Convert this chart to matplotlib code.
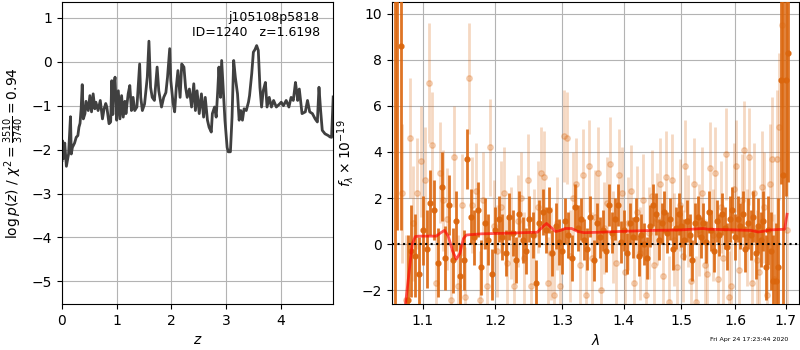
import matplotlib
matplotlib.use('Agg')
import matplotlib.pyplot as plt
from matplotlib.ticker import NullLocator, FormatStrFormatter

plt.rcParams['font.size'] = 10

# redshift grid and log p(z)
z_grid = [0.00, 0.01, 0.03, 0.05, 0.08, 0.12, 0.155, 0.17, 0.19, 0.23, 0.26, 0.29, 0.31, 0.33, 0.35, 0.37,
          0.39, 0.42, 0.44, 0.48, 0.51, 0.54, 0.57, 0.60, 0.62, 0.66, 0.70, 0.74, 0.77, 0.80, 0.82, 0.86, 0.89,
          0.91, 0.93, 0.94, 0.97, 1.00, 1.03, 1.06, 1.09, 1.12, 1.15, 1.17, 1.21, 1.24, 1.27, 1.30, 1.33, 1.37,
          1.42, 1.44, 1.47, 1.51, 1.56, 1.59, 1.62, 1.65, 1.69, 1.74, 1.77, 1.82, 1.86, 1.90, 1.93,
          1.97, 1.99, 2.03, 2.06, 2.09, 2.12, 2.16, 2.19, 2.23, 2.26, 2.29, 2.33, 2.37, 2.41, 2.44,
          2.47, 2.51, 2.55, 2.59, 2.62, 2.66, 2.69, 2.73, 2.75, 2.79, 2.82, 2.85, 2.87, 2.90, 2.92,
          2.95, 2.98, 3.02, 3.04, 3.08, 3.11, 3.14, 3.17, 3.21, 3.24, 3.27, 3.30, 3.33, 3.37, 3.41,
          3.43, 3.47, 3.50, 3.53, 3.56, 3.59, 3.62, 3.65, 3.68, 3.72, 3.75, 3.79, 3.83, 3.87, 3.92,
          3.98, 4.01, 4.05, 4.10, 4.15, 4.19, 4.23, 4.27, 4.29, 4.31, 4.34, 4.39, 4.45, 4.49, 4.53,
          4.58, 4.63, 4.67, 4.70, 4.73, 4.76, 4.81, 4.87, 4.90, 4.93, 4.96]
logpz = [-2.25, -1.80, -2.20, -1.85, -2.38, -2.10, -1.25, -2.10, -1.95, -1.85, -1.72, -1.68, -1.49, -1.40, -1.07, -0.52,
         -1.30, -1.18, -0.90, -1.11, -0.77, -1.14, -0.73, -1.07, -0.92, -1.11, -0.88, -1.30, -1.07, -0.95, -1.03, -1.41, -1.37,
         -0.43, -1.20, -0.66, -0.35, -1.33, -0.66, -1.30, -0.77, -1.26, -0.90, -1.18, -0.73, -0.54, -1.11, -0.81, -1.11, -1.03,
         -0.05, -0.81, -1.11, -0.96, -0.35, 0.47, -0.58, -0.81, -0.88, -0.12, -0.66, -1.03, -0.81, -0.70, -0.35,
         0.30, -0.43, -0.92, -1.14, -0.58, -0.20, -0.81, -0.05, -0.12, -0.58, -0.81, -0.62, -1.03, -0.50, -1.11,
         -0.66, -1.18, -0.73, -1.26, -0.81, -1.33, -1.49, -1.60, -1.18, -1.03, -1.26, -0.62, -0.12, -0.81, 0.03,
         -0.66, -1.33, -1.95, -2.05, -2.05, -1.26, 0.03, -0.35, -0.73, -1.33, -1.11, -1.33, -1.07, -1.11, -0.92,
         -0.77, -0.27, 0.22, 0.28, 0.37, 0.26, -0.58, -1.03, -0.66, -0.47, -1.03, -0.81, -1.03, -0.88, -1.03,
         -0.96, -0.92, -1.00, -0.88, -1.03, -0.81, -0.88, -0.47, -0.66, -0.88, -0.62, -1.18, -1.14, -0.88, -1.14,
         -1.18, -1.30, -1.37, -0.58, -1.11, -1.56, -1.64, -1.68, -1.71, -1.72, -0.80]

# spectrum, first orientation (solid points)
wave_a = [1.064, 1.067, 1.072, 1.080, 1.085, 1.090, 1.095, 1.100, 1.105, 1.110, 1.115, 1.120, 1.125,
          1.130, 1.135, 1.140, 1.145, 1.150, 1.155, 1.160, 1.165, 1.170, 1.175, 1.180, 1.185, 1.190,
          1.195, 1.200, 1.205, 1.210, 1.215, 1.220, 1.225, 1.230, 1.235, 1.240, 1.245, 1.250, 1.255,
          1.260, 1.265, 1.270, 1.275, 1.280, 1.285, 1.290, 1.295, 1.300, 1.305, 1.310, 1.315, 1.320,
          1.325, 1.330, 1.335, 1.340, 1.345, 1.350, 1.355, 1.360, 1.365, 1.370, 1.375, 1.380, 1.385,
          1.390, 1.395, 1.400, 1.405, 1.410, 1.415, 1.420, 1.425, 1.430, 1.435, 1.440, 1.445, 1.450,
          1.455, 1.460, 1.465, 1.470, 1.475, 1.480, 1.485, 1.490, 1.495, 1.500, 1.505, 1.510, 1.515,
          1.520, 1.525, 1.530, 1.535, 1.540, 1.545, 1.550, 1.555, 1.560, 1.565, 1.570, 1.575, 1.580,
          1.585, 1.590, 1.595, 1.600, 1.605, 1.610, 1.615, 1.620, 1.625, 1.630, 1.635, 1.640, 1.645,
          1.650, 1.655, 1.660, 1.665, 1.670, 1.675, 1.680, 1.685, 1.690, 1.695, 1.700, 1.705]
flux_a = [12.0, 11.0, 8.6, -2.4, -0.3, -0.5, -1.3, 0.6, -0.2, 1.8, 1.5, -0.8, 2.5,
          -0.6, 1.7, -0.7, 1.0, -1.4, -0.7, 3.7, 1.2, 0.3, 1.5, -1.0, 0.9, 0.2,
          -1.3, 0.6, 1.1, 0.3, -0.4, 1.2, 0.5, -0.7, 1.3, 0.2, -0.3, 1.1, 0.4,
          -1.7, 0.9, 1.4, 0.6, 1.5, -0.4, 0.8, 0.1, -0.3, 1.0, 0.4, -0.6, 1.6,
          0.7, 1.1, 0.2, -0.2, 1.2, -0.7, 0.9, 0.3, 0.6, -0.3, 1.7, 0.5, 1.1,
          1.7, 0.1, 0.6, -0.4, 0.9, 0.3, 1.1, -0.5, 0.4, 0.0, -0.6, 0.8, 1.7,
          1.3, 0.2, 0.9, 1.4, 0.5, 1.1, -0.2, 0.7, 1.3, 0.8, 0.2, 1.0, 0.4,
          -0.7, 0.9, 1.2, 0.3, 0.9, 0.1, 1.4, 0.6, -0.3, 1.0, 0.4, 1.3, 0.7,
          -0.1, 1.1, 1.5, 0.3, 1.1, 0.8, 1.3, -0.2, 0.9, 0.4, 1.2, -0.4, 0.8,
          0.2, 1.0, -1.0, 0.6, -0.3, -1.6, -1.6, -1.0, 7.1, 3.0, 7.1, 8.3]
err_a = [15.0, 10.4, 8.0, 2.8, 2.0, 1.8, 1.6, 1.5, 1.7, 1.4, 1.3, 1.5, 1.5,
         1.4, 1.3, 1.4, 1.3, 1.4, 1.3, 1.3, 1.2, 1.2, 1.2, 1.2, 1.1, 1.1,
         1.1, 1.0, 1.0, 1.0, 1.0, 1.0, 1.0, 1.0, 1.0, 1.0, 1.0, 1.0, 1.0,
         1.0, 1.0, 1.0, 1.0, 1.0, 1.0, 1.0, 1.0, 1.0, 1.0, 1.0, 1.0, 1.0,
         1.0, 0.9, 0.9, 0.9, 0.9, 0.9, 0.9, 0.9, 0.9, 0.9, 0.9, 0.9, 0.9,
         0.9, 0.9, 0.9, 0.9, 0.9, 0.9, 0.9, 0.9, 0.9, 0.9, 0.9, 0.9, 0.9,
         0.9, 0.9, 0.9, 0.9, 0.9, 0.9, 0.9, 0.9, 0.9, 0.9, 0.9, 0.9, 0.9,
         0.9, 0.9, 0.9, 0.9, 0.9, 0.9, 0.9, 0.9, 0.9, 0.9, 0.9, 0.9, 0.9,
         1.0, 1.0, 1.0, 1.0, 1.0, 1.0, 1.0, 1.0, 1.1, 1.1, 1.1, 1.1, 1.2,
         1.2, 1.3, 1.4, 1.5, 1.7, 2.0, 2.5, 3.0, 4.5, 8.0, 5.0, 5.6]

# spectrum, second orientation (faint points)
wave_b = [1.0725, 1.0775, 1.0825, 1.0875, 1.0925, 1.0975, 1.1025, 1.1075, 1.1125, 1.1175, 1.1225,
          1.1275, 1.1325, 1.1375, 1.1425, 1.1475, 1.1525, 1.1575, 1.1625, 1.1675, 1.1725, 1.1775,
          1.1825, 1.1875, 1.1925, 1.1975, 1.2025, 1.2075, 1.2125, 1.2175, 1.2225, 1.2275, 1.2325,
          1.2375, 1.2425, 1.2475, 1.2525, 1.2575, 1.2625, 1.2675, 1.2725, 1.2775, 1.2825, 1.2875,
          1.2925, 1.2975, 1.3025, 1.3075, 1.3125, 1.3175, 1.3225, 1.3275, 1.3325, 1.3375, 1.3425,
          1.3475, 1.3525, 1.3575, 1.3625, 1.3675, 1.3725, 1.3775, 1.3825, 1.3875, 1.3925, 1.3975,
          1.4025, 1.4075, 1.4125, 1.4175, 1.4225, 1.4275, 1.4325, 1.4375, 1.4425, 1.4475, 1.4525,
          1.4575, 1.4625, 1.4675, 1.4725, 1.4775, 1.4825, 1.4875, 1.4925, 1.4975, 1.5025, 1.5075,
          1.5125, 1.5175, 1.5225, 1.5275, 1.5325, 1.5375, 1.5425, 1.5475, 1.5525, 1.5575, 1.5625,
          1.5675, 1.5725, 1.5775, 1.5825, 1.5875, 1.5925, 1.5975, 1.6025, 1.6075, 1.6125, 1.6175,
          1.6225, 1.6275, 1.6325, 1.6375, 1.6425, 1.6475, 1.6525, 1.6575, 1.6625, 1.6675, 1.6725,
          1.6775, 1.6825, 1.6875, 1.6925, 1.7035]
flux_b = [2.2, -2.4, 4.6, 0.9, 2.2, 3.6, 2.8, 7.0, 4.3, -1.7, 3.1,
          1.9, 1.1, -2.4, 3.8, -1.8, 1.7, -2.3, 7.2, 1.7, 2.3, -2.4,
          1.9, -1.8, 4.2, 0.8, -0.3, 1.6, 2.2, -0.8, 0.5, -1.8, 1.0,
          2.0, -0.6, 2.8, -1.8, 0.4, 1.6, 3.1, 2.9, -1.7, -0.4, -2.2,
          0.9, -1.8, 4.7, 4.6, -0.5, 2.0, 2.6, -0.9, 3.0, -2.2, 3.4,
          -0.6, 1.2, 3.1, -2.0, 0.7, 1.8, 3.5, 0.3, -0.8, 3.0, 2.2,
          -1.2, 0.9, 2.3, -1.7, 1.4, -0.4, 1.9, -2.2, 0.5, 2.1, -0.9,
          1.1, 2.6, -1.4, 2.9, -2.5, 2.8, 0.2, -1.0, 1.7, -0.5, 3.4,
          1.0, -1.6, 2.6, -2.5, 0.6, 2.2, -0.9, -1.3, 3.3, 0.4, 3.1,
          -1.5, 1.6, -0.6, 3.9, -2.3, -1.8, 2.4, 3.4, -1.1, 1.9, 4.1,
          0.3, 3.8, -1.7, 2.2, -0.7, -1.2, 2.5, 1.6, -2.2, 2.6, 3.7,
          -1.5, 3.7, 5.1, 9.5, 0.6]
err_b = [3.0, 2.8, 2.6, 2.5, 2.4, 2.4, 2.3, 2.6, 2.3, 2.2, 2.2,
         2.2, 2.2, 2.2, 2.2, 2.2, 2.2, 2.2, 2.4, 2.1, 2.1, 2.1,
         2.1, 2.1, 2.1, 2.0, 2.0, 2.0, 2.0, 2.0, 2.0, 2.0, 2.0,
         2.0, 2.0, 2.0, 2.0, 2.0, 2.0, 2.0, 2.0, 2.0, 2.0, 2.0,
         2.0, 2.0, 2.0, 2.0, 2.0, 2.0, 2.0, 2.0, 2.0, 2.0, 2.0,
         2.0, 2.0, 2.0, 2.0, 2.0, 2.0, 2.0, 2.0, 2.0, 2.0, 2.0,
         2.0, 2.0, 2.0, 2.0, 2.0, 2.0, 2.0, 2.0, 2.0, 2.0, 2.0,
         2.0, 2.0, 2.0, 2.0, 2.0, 2.0, 2.0, 2.0, 2.0, 2.0, 2.0,
         2.0, 2.0, 2.0, 2.0, 2.0, 2.0, 2.0, 2.0, 2.0, 2.0, 2.0,
         2.0, 2.0, 2.0, 2.0, 2.0, 2.0, 2.0, 2.0, 2.0, 2.0, 2.1,
         2.1, 2.1, 2.1, 2.2, 2.2, 2.3, 2.4, 2.4, 2.5, 2.6, 2.7,
         2.8, 3.0, 3.2, 3.6, 3.5]

# best-fit model
wave_model = [1.076, 1.082, 1.086, 1.090, 1.095, 1.118, 1.124, 1.129, 1.134, 1.140, 1.145, 1.150,
              1.155, 1.159, 1.180, 1.220, 1.262, 1.270, 1.276, 1.282, 1.290, 1.298, 1.305, 1.315,
              1.325, 1.335, 1.360, 1.400, 1.450, 1.500, 1.540, 1.548, 1.600, 1.630, 1.645, 1.655,
              1.670, 1.698, 1.703]
flux_model = [-3.0, -1.2, 0.0, 0.33, 0.35, 0.35, 0.5, 0.6, 0.35, -0.3, -0.65, -0.4,
              0.25, 0.4, 0.45, 0.48, 0.52, 0.75, 0.9, 0.75, 0.55, 0.6, 0.68, 0.68,
              0.55, 0.5, 0.52, 0.56, 0.6, 0.62, 0.68, 0.65, 0.62, 0.6, 0.53, 0.56,
              0.62, 0.65, 1.3]

lam_ticks = [1.1, 1.2, 1.3, 1.4, 1.5, 1.6, 1.7]
spec_color = (0.86, 0.40, 0.05)

fig = plt.figure(figsize=(8, 3.5), dpi=100)
ax1 = fig.add_axes([0.0775, 0.131, 0.339, 0.863])
ax2 = fig.add_axes([0.49, 0.131, 0.509, 0.863])

# p(z)
ax1.plot(z_grid, logpz, color='0.25', lw=2)
ax1.set_xlim(0, 4.96)
ax1.set_ylim(-5.52, 1.36)
ax1.set_xlabel('$z$')
ax1.set_ylabel(r'$\log p(z)$ / $\chi^2=\frac{3510}{3740}=0.94$')
ax1.grid(color='0.7')
ax1.set_axisbelow(True)
ax1.text(0.95, 0.97, 'j105108p5818\nID=1240   z=1.6198', transform=ax1.transAxes,
         ha='right', va='top', fontsize=9)

# spectrum
ax2.errorbar(wave_b, flux_b, yerr=err_b, marker='o', ms=4, ls='none', color=spec_color,
             alpha=0.25, elinewidth=2.0, zorder=2)
ax2.errorbar(wave_a, flux_a, yerr=err_a, marker='o', ms=3.5, ls='none', color=spec_color,
             alpha=0.9, elinewidth=2.0, zorder=3)
ax2.plot(wave_model, flux_model, color='red', alpha=0.65, lw=2, zorder=4)
ax2.axhline(0, color='k', ls=':', lw=1.5, zorder=5)
ax2.set_xscale('log')
ax2.set_xlim(1.060, 1.728)
ax2.set_ylim(-2.6, 10.5)
ax2.set_xticks(lam_ticks)
ax2.xaxis.set_major_formatter(FormatStrFormatter('%.1f'))
ax2.xaxis.set_minor_locator(NullLocator())
ax2.set_xlabel(r'$\lambda$')
ax2.set_ylabel(r'$f_\lambda \times 10^{-19}$')
ax2.grid(color='0.7')
ax2.set_axisbelow(True)

fig.text(0.985, 0.031, 'Fri Apr 24 17:23:44 2020', ha='right', va='center', fontsize=4.5)

fig.savefig('out.png', dpi=100)
